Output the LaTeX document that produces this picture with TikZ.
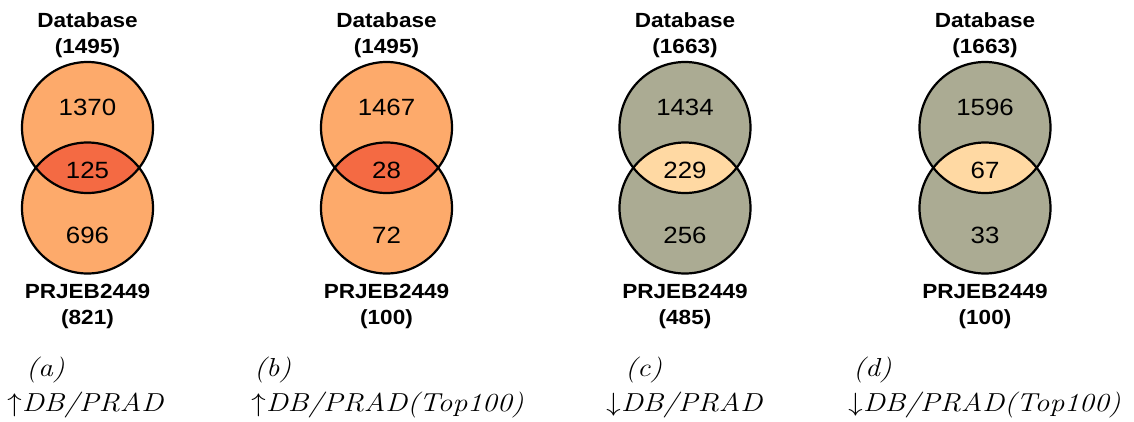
\documentclass[tikz,border=0pt]{standalone}
\usepackage{fontspec}
\usepackage{unicode-math}
\setmathfont{Latin Modern Math}
\usepackage{graphicx}
\newfontfamily\labelfont[FakeStretch=1.1]{Liberation Sans}

\definecolor{peach}{HTML}{FDAA6B}
\definecolor{coral}{HTML}{F46A43}
\definecolor{olive}{HTML}{ABAB93}
\definecolor{cream}{HTML}{FFD9A3}

\tikzset{
  ring/.style={draw=black, line width=2.2bp},
  setname/.style={inner sep=0pt, anchor=base, font=\labelfont\bfseries\fontsize{20.5bp}{24bp}\selectfont},
  count/.style={inner sep=0pt, anchor=base, font=\labelfont\fontsize{23.5bp}{27bp}\selectfont},
  caption/.style={inner sep=0pt, anchor=base west, font=\itshape\fontsize{26bp}{30bp}\selectfont},
}

% wide italic caption text
\newcommand\capt[1]{\scalebox{1.14}[1]{#1}}

% #1 id, #2 centre x, #3 set colour, #4 overlap colour,
% #5 first total, #6 first only, #7 shared, #8 second only, #9 second total
\newcommand\vennpair[9]{%
  \fill[#3] (#2,127.5) circle[radius=65.5bp];
  \fill[#3] (#2,208) circle[radius=65.5bp];
  \begin{scope}
    \clip (#2,127.5) circle[radius=65.5bp];
    \fill[#4] (#2,208) circle[radius=65.5bp];
  \end{scope}
  \draw[ring] (#2,127.5) circle[radius=65.5bp];
  \draw[ring] (#2,208) circle[radius=65.5bp];
  \node[setname] (#1-db)    at (#2,27)  {Database};
  \node[setname] (#1-dbn)   at (#2,53)  {(#5)};
  \node[count]   (#1-only1) at (#2,115) {#6};
  \node[count]   (#1-both)  at (#2,178) {#7};
  \node[count]   (#1-only2) at (#2,243) {#8};
  \node[setname] (#1-pr)    at (#2,298) {PRJEB2449};
  \node[setname] (#1-prn)   at (#2,324) {(#9)};
}

\begin{document}
\begin{tikzpicture}[x=1bp, y=-1bp]
  \useasboundingbox (0,0) rectangle (1134,421);

  \vennpair{a}{87.5}{peach}{coral}{1495}{1370}{125}{696}{821}
  \vennpair{b}{386.5}{peach}{coral}{1495}{1467}{28}{72}{100}
  \vennpair{c}{685}{olive}{cream}{1663}{1434}{229}{256}{485}
  \vennpair{d}{985}{olive}{cream}{1663}{1596}{67}{33}{100}

  \node[caption] (a-tag) at (26,376)  {\capt{(a)}};
  \node[caption] (a-cap) at (7,411)   {\capt{$\mathord{\uparrow}$DB/PRAD}};
  \node[caption] (b-tag) at (254,376) {\capt{(b)}};
  \node[caption] (b-cap) at (251,411) {\capt{$\mathord{\uparrow}$DB/PRAD(Top100)}};
  \node[caption] (c-tag) at (625,376) {\capt{(c)}};
  \node[caption] (c-cap) at (606,411) {\capt{$\mathord{\downarrow}$DB/PRAD}};
  \node[caption] (d-tag) at (853,376) {\capt{(d)}};
  \node[caption] (d-cap) at (848,411) {\capt{$\mathord{\downarrow}$DB/PRAD(Top100)}};
\end{tikzpicture}
\end{document}
